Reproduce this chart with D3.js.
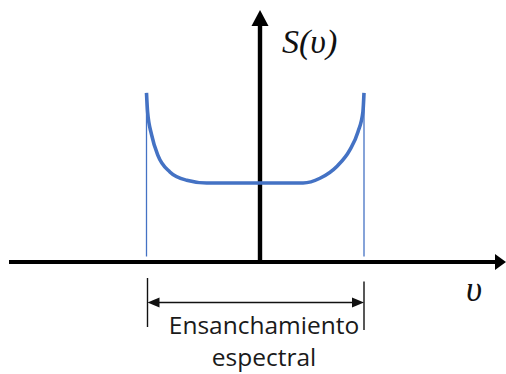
<!DOCTYPE html>
<html>
<head>
<meta charset="utf-8">
<script src="https://cdn.jsdelivr.net/npm/d3@7"></script>
<style>
  html, body { margin: 0; padding: 0; background: #fff; }
  svg { display: block; }
</style>
</head>
<body>
<svg id="chart" width="506" height="374"></svg>
<script>
// Normalised frequency offset (edges of the band at ±1) and spectral density S(ν)
const nu = [-1.0, -0.99, -0.953, -0.895, -0.785, -0.63, -0.447, 0.44, 0.595, 0.75, 0.87, 0.945, 0.99, 1.0];
const S  = [2.14, 1.90, 1.61, 1.35, 1.14, 1.035, 1.0, 1.0, 1.06, 1.21, 1.42, 1.65, 1.90, 2.14];
// Band edges marking the spectral broadening
const bandEdges = [-1.0, 1.0];
const yLabel = "S(υ)";
const xLabel = "υ";
const bracketLabel = ["Ensanchamiento", "espectral"];

const svg = d3.select("#chart");
const W = 506, H = 374;

const x = d3.scaleLinear().domain([-1, 1]).range([146.5, 364]);
const y = d3.scaleLinear().domain([0, 1]).range([262, 183]);

const blue = "#4472C4";
const axisX = 260;

// Thin guide lines at the band edges
svg.selectAll("line.edge")
  .data(bandEdges)
  .join("line")
  .attr("class", "edge")
  .attr("x1", d => x(d)).attr("x2", d => x(d))
  .attr("y1", y(d3.max(S)))
  .attr("y2", 256.5)
  .attr("stroke", blue)
  .attr("stroke-width", 1.3);

// Horizontal (frequency) axis with arrow
svg.append("line")
  .attr("x1", 9).attr("x2", 498)
  .attr("y1", y(0)).attr("y2", y(0))
  .attr("stroke", "#000").attr("stroke-width", 4.2);
svg.append("path")
  .attr("d", `M${W},${y(0)} L${W - 11},${y(0) - 8} L${W - 11},${y(0) + 8} Z`)
  .attr("fill", "#000");

// Vertical (S) axis with arrow
svg.append("line")
  .attr("x1", axisX).attr("x2", axisX)
  .attr("y1", y(0) + 2).attr("y2", 22)
  .attr("stroke", "#000").attr("stroke-width", 4.4);
svg.append("path")
  .attr("d", `M${axisX},10 L${axisX - 8.5},26 L${axisX + 8.5},26 Z`)
  .attr("fill", "#000");

// Spectral profile
const pts = nu.map((v, i) => [v, S[i]]);
svg.append("path")
  .datum(pts)
  .attr("d", d3.line().x(d => x(d[0])).y(d => y(d[1])).curve(d3.curveMonotoneX))
  .attr("fill", "none")
  .attr("stroke", blue)
  .attr("stroke-width", 3.6)
  .attr("stroke-linecap", "butt");

// Axis labels
svg.append("text")
  .attr("x", 282).attr("y", 53)
  .attr("font-family", "'Liberation Serif', serif")
  .attr("font-style", "italic")
  .attr("font-size", 34)
  .attr("fill", "#111")
  .text(yLabel);

svg.append("text")
  .attr("x", 466).attr("y", 301)
  .attr("font-family", "'Liberation Serif', serif")
  .attr("font-style", "italic")
  .attr("font-size", 35)
  .attr("fill", "#111")
  .text(xLabel);

// Width bracket
const bx0 = x(bandEdges[0]) + 1, bx1 = x(bandEdges[1]);
const by = 302.5;
const ink = "#111";
svg.append("line").attr("x1", bx0).attr("x2", bx0).attr("y1", 278).attr("y2", 327)
  .attr("stroke", ink).attr("stroke-width", 1.4);
svg.append("line").attr("x1", bx1).attr("x2", bx1).attr("y1", 281.5).attr("y2", 330)
  .attr("stroke", ink).attr("stroke-width", 1.4);
svg.append("line").attr("x1", bx0 + 6).attr("x2", bx1 - 6).attr("y1", by).attr("y2", by)
  .attr("stroke", ink).attr("stroke-width", 1.4);
svg.append("path")
  .attr("d", `M${bx0},${by} L${bx0 + 12},${by - 5} L${bx0 + 12},${by + 5} Z`)
  .attr("fill", ink);
svg.append("path")
  .attr("d", `M${bx1},${by} L${bx1 - 12},${by - 5} L${bx1 - 12},${by + 5} Z`)
  .attr("fill", ink);

svg.selectAll("text.bracket")
  .data(bracketLabel)
  .join("text")
  .attr("class", "bracket")
  .attr("x", 264)
  .attr("y", (d, i) => 334 + i * 32)
  .attr("text-anchor", "middle")
  .attr("font-family", "'Open Sans', sans-serif")
  .attr("font-size", 24.5)
  .attr("fill", "#1a1a1a")
  .text(d => d);
</script>
</body>
</html>
